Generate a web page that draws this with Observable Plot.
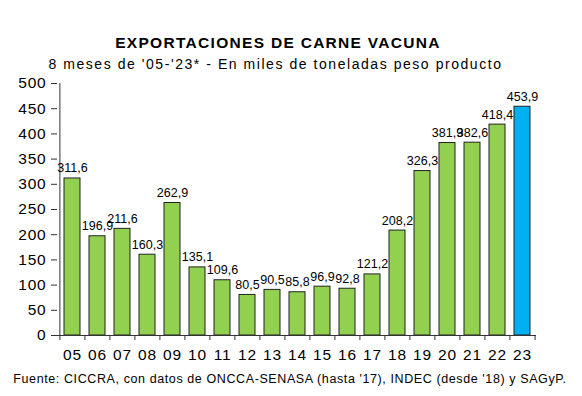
<!DOCTYPE html>
<html>
<head>
<meta charset="utf-8">
<script src="https://cdn.jsdelivr.net/npm/d3@7"></script>
<script src="https://cdn.jsdelivr.net/npm/@observablehq/plot@0.6"></script>
<style>
  html, body { margin: 0; padding: 0; background: #fff; }
  #wrap { position: relative; width: 582px; height: 396px; font-family: "Liberation Sans", Arial, sans-serif; color: #000; }
  .t { position: absolute; white-space: nowrap; line-height: 1; }
  #title { top: 35px; left: 0; width: 556px; text-align: center; font-size: 15.5px; font-weight: bold; letter-spacing: 1.3px; }
  #subtitle { top: 57px; left: 0; width: 551px; text-align: center; font-size: 14px; letter-spacing: 1.55px; }
  #caption { top: 373px; left: 0; width: 580px; text-align: center; font-size: 12.5px; letter-spacing: 0.6px; }
  #chart { position: absolute; top: 74px; left: 0; }
  #chart svg g[aria-label="y-axis tick label"] text,
  #chart svg g[aria-label="x-axis tick label"] text { letter-spacing: 0.8px; }
</style>
</head>
<body>
<div id="wrap">
  <div id="title" class="t">EXPORTACIONES DE CARNE VACUNA</div>
  <div id="subtitle" class="t">8 meses de '05-'23* - En miles de toneladas peso producto</div>
  <div id="chart"></div>
  <div id="caption" class="t">Fuente: CICCRA, con datos de ONCCA-SENASA (hasta '17), INDEC (desde '18) y SAGyP.</div>
</div>
<script>
const years = ["05","06","07","08","09","10","11","12","13","14","15","16","17","18","19","20","21","22","23"];
const values = [311.6,196.9,211.6,160.3,262.9,135.1,109.6,80.5,90.5,85.8,96.9,92.8,121.2,208.2,326.3,381.9,382.6,418.4,453.9];
const highlightYear = "23";
const yTicks = [0,50,100,150,200,250,300,350,400,450,500];

const data = years.map((y, i) => ({year: y, value: values[i], label: values[i].toFixed(1).replace(".", ",")}));

const W = 582, H = 294, ML = 57, MR = 46, MT = 9, MB = 33;
const step = (W - ML - MR) / years.length;

const chart = Plot.plot({
  width: W,
  height: H,
  marginLeft: ML,
  marginRight: MR,
  marginTop: MT,
  marginBottom: MB,
  style: {fontFamily: "'Liberation Sans', Arial, sans-serif", fontSize: "15px", color: "#000", background: "#fff", overflow: "visible"},
  x: {domain: years, paddingInner: 0.37, paddingOuter: 0.185, label: null},
  y: {domain: [0, 500], label: null},
  marks: [
    Plot.barY(data, {x: "year", y: "value", fill: d => d.year === highlightYear ? "#00B0F0" : "#92D050", stroke: "#222", strokeWidth: 1}),
    Plot.ruleY([0], {stroke: "#333"}),
    Plot.ruleX([years[0]], {x: d => d, dx: -step / 2, y1: 0, y2: 500, stroke: "#333"}),
    Plot.ruleX(years, {x: d => d, dx: -step / 2, y1: 0, y2: 0, insetBottom: -5, stroke: "#333"}),
    Plot.ruleX([years[years.length - 1]], {x: d => d, dx: step / 2, y1: 0, y2: 0, insetBottom: -5, stroke: "#333"}),
    Plot.axisY({ticks: yTicks, tickSize: 6, tickPadding: 5, stroke: "#333", fontSize: 15.5}),
    Plot.axisX({tickSize: 0, tickPadding: 13, fontSize: 15.5}),
    Plot.text(data, {x: "year", y: "value", text: "label", lineAnchor: "bottom", dy: -6, fontSize: 12.5, fill: "#000"})
  ]
});
document.getElementById("chart").appendChild(chart);
</script>
</body>
</html>
